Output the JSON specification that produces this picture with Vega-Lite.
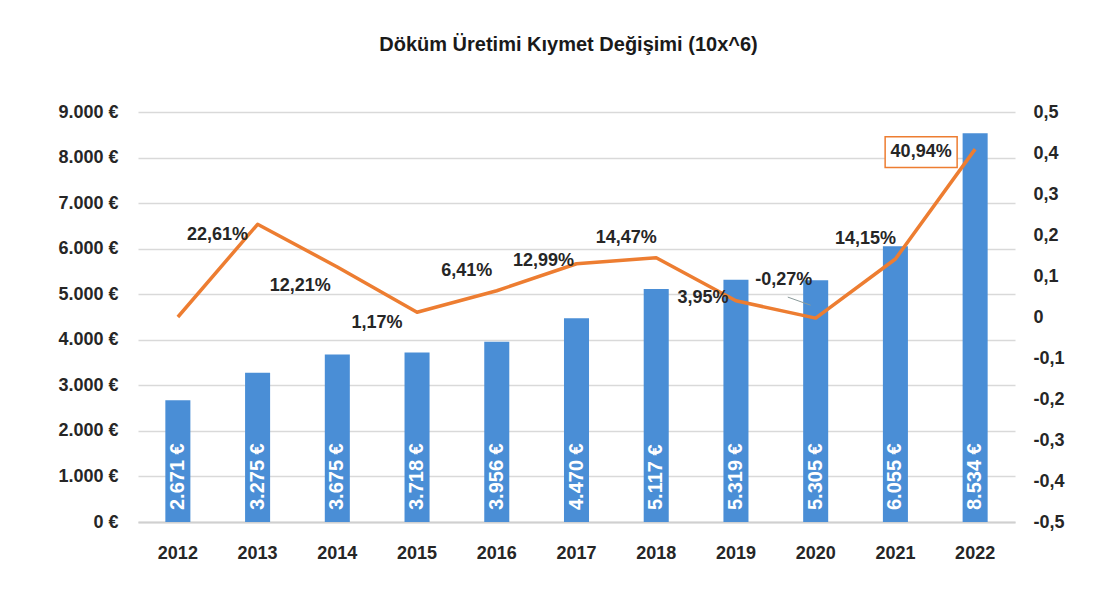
{
  "$schema": "https://vega.github.io/schema/vega-lite/v6.json",
  "width": 877,
  "height": 410,
  "autosize": {"type": "none"},
  "padding": {"left": 138, "top": 112, "right": 79, "bottom": 80},
  "background": "white",
  "title": {
    "text": "Döküm Üretimi Kıymet Değişimi (10x^6)",
    "font": "Liberation Sans",
    "fontSize": 20,
    "fontWeight": "bold",
    "color": "#1a1a1a",
    "offset": 48,
    "dx": -8
  },
  "config": {
    "locale": {
      "number": {
        "decimal": ",",
        "thousands": ".",
        "grouping": [3],
        "currency": ["", " €"],
        "minus": "-"
      }
    },
    "view": {"stroke": null},
    "font": "Liberation Sans",
    "text": {"font": "Liberation Sans"}
  },
  "data": {
    "values": [
      {"year": "2012", "value": 2671, "pct": 0},
      {"year": "2013", "value": 3275, "pct": 0.2261},
      {"year": "2014", "value": 3675, "pct": 0.1221},
      {"year": "2015", "value": 3718, "pct": 0.0117},
      {"year": "2016", "value": 3956, "pct": 0.0641},
      {"year": "2017", "value": 4470, "pct": 0.1299},
      {"year": "2018", "value": 5117, "pct": 0.1447},
      {"year": "2019", "value": 5319, "pct": 0.0395},
      {"year": "2020", "value": 5305, "pct": -0.0027},
      {"year": "2021", "value": 6055, "pct": 0.1415},
      {"year": "2022", "value": 8534, "pct": 0.4094}
    ]
  },
  "encoding": {
    "x": {
      "field": "year",
      "type": "ordinal",
      "scale": {"paddingInner": 0.686, "paddingOuter": 0.343},
      "axis": {
        "title": null,
        "labelAngle": 0,
        "labelFontSize": 18,
        "labelFontWeight": "bold",
        "labelColor": "#262626",
        "labelPadding": 22,
        "ticks": false,
        "domainColor": "#d0d0d0",
        "domainWidth": 2
      }
    }
  },
  "layer": [
    {
      "layer": [
        {
          "mark": {"type": "bar", "color": "#4a8ed6"},
          "encoding": {
            "y": {
              "field": "value",
              "type": "quantitative",
              "scale": {"domain": [0, 9000]},
              "axis": {
                "orient": "left",
                "title": null,
                "values": [0, 1000, 2000, 3000, 4000, 5000, 6000, 7000, 8000, 9000],
                "format": "$,.0f",
                "grid": true,
                "gridColor": "#d9d9d9",
                "gridWidth": 1.5,
                "domain": false,
                "ticks": false,
                "labelPadding": 20,
                "labelFontSize": 18,
                "labelFontWeight": "bold",
                "labelColor": "#262626"
              }
            }
          }
        },
        {
          "mark": {
            "type": "text",
            "angle": 270,
            "align": "left",
            "baseline": "middle",
            "dx": 12,
            "color": "white",
            "fontSize": 20,
            "fontWeight": "bold"
          },
          "encoding": {
            "y": {"datum": 0, "type": "quantitative"},
            "text": {"field": "value", "type": "quantitative", "format": "$,.0f"}
          }
        }
      ]
    },
    {
      "encoding": {
        "y": {
          "field": "pct",
          "type": "quantitative",
          "scale": {"domain": [-0.5, 0.5]},
          "axis": {
            "orient": "right",
            "title": null,
            "values": [-0.5, -0.4, -0.3, -0.2, -0.1, 0, 0.1, 0.2, 0.3, 0.4, 0.5],
            "format": ".1~f",
            "grid": false,
            "domain": false,
            "ticks": false,
            "labelPadding": 18,
            "labelFontSize": 18,
            "labelFontWeight": "bold",
            "labelColor": "#262626"
          }
        }
      },
      "layer": [
        {
          "mark": {"type": "line", "color": "#ED7D31", "strokeWidth": 3.5, "strokeJoin": "round"}
        },
        {
          "transform": [{"filter": "datum.year == '2020'"}],
          "mark": {"type": "point", "shape": "M-0.93,-0.7L-0.17,-0.43", "size": 3600, "filled": false, "stroke": "#8a9a9a", "strokeWidth": 1, "opacity": 1}
        },
        {
          "transform": [{"filter": "datum.year == '2022'"}],
          "mark": {"type": "point", "shape": "M-2.5,-0.347H-0.5V0.513H-2.5Z", "size": 5184, "filled": true, "fill": "white", "stroke": "#ED7D31", "strokeWidth": 1.5, "opacity": 1}
        },
        {
          "transform": [{"filter": "datum.year == '2013' || datum.year == '2015'"}],
          "mark": {"type": "text", "dx": -40, "dy": 11, "fontSize": 18, "fontWeight": "bold", "color": "#262626"},
          "encoding": {"text": {"field": "pct", "type": "quantitative", "format": ".2%"}}
        },
        {
          "transform": [{"filter": "datum.year == '2014'"}],
          "mark": {"type": "text", "dx": -37, "dy": 19, "fontSize": 18, "fontWeight": "bold", "color": "#262626"},
          "encoding": {"text": {"field": "pct", "type": "quantitative", "format": ".2%"}}
        },
        {
          "transform": [{"filter": "datum.year == '2016' || datum.year == '2018' || datum.year == '2021'"}],
          "mark": {"type": "text", "dx": -30, "dy": -20, "fontSize": 18, "fontWeight": "bold", "color": "#262626"},
          "encoding": {"text": {"field": "pct", "type": "quantitative", "format": ".2%"}}
        },
        {
          "transform": [{"filter": "datum.year == '2017' || datum.year == '2019'"}],
          "mark": {"type": "text", "dx": -33, "dy": -3, "fontSize": 18, "fontWeight": "bold", "color": "#262626"},
          "encoding": {"text": {"field": "pct", "type": "quantitative", "format": ".2%"}}
        },
        {
          "transform": [{"filter": "datum.year == '2020'"}],
          "mark": {"type": "text", "dx": -32, "dy": -38, "fontSize": 18, "fontWeight": "bold", "color": "#262626"},
          "encoding": {"text": {"field": "pct", "type": "quantitative", "format": ".2%"}}
        },
        {
          "transform": [{"filter": "datum.year == '2022'"}],
          "mark": {"type": "text", "dx": -54, "dy": 3, "fontSize": 18, "fontWeight": "bold", "color": "#262626"},
          "encoding": {"text": {"field": "pct", "type": "quantitative", "format": ".2%"}}
        }
      ]
    }
  ],
  "resolve": {"scale": {"y": "independent"}}
}
